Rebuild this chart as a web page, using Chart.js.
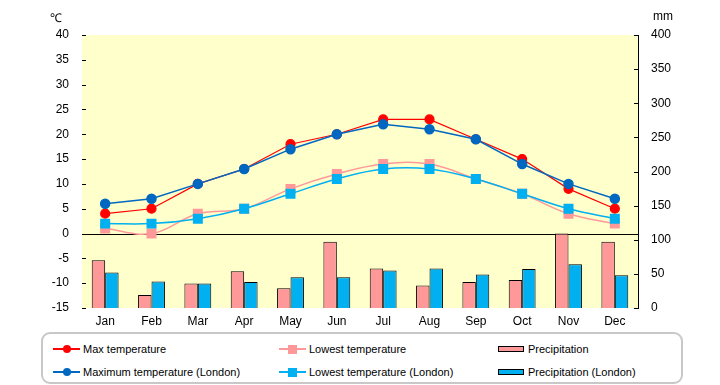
<!DOCTYPE html>
<html lang="en">
<head>
<meta charset="UTF-8">
<title>Temperature and Precipitation</title>
<style>
    body { margin: 0; background: #fff; font-family: "Liberation Sans", Arial, sans-serif; }
    #wrap { position: relative; width: 720px; height: 385px; }
    #chart { position: absolute; left: 0; top: 0; }
    .unit { position: absolute; font-size: 12px; color: #000; }
    #legend {
        position: absolute; left: 41px; top: 332px; width: 638px; height: 48px;
        border: 2px solid #c8c8c8; border-radius: 9px; background: #fff;
    }
    .item { position: absolute; font-size: 11px; color: #000; height: 14px; line-height: 14px; white-space: nowrap; }
    .item .line { position: absolute; left: 0; top: 6px; width: 27px; height: 1.5px; }
    .item .mark { position: absolute; }
    .item .box { position: absolute; left: 0; top: 4px; width: 24px; height: 4px; border: 1px solid #000; }
    .item span { position: absolute; left: 30px; top: 0; }
</style>
<script src="https://cdn.jsdelivr.net/npm/chart.js"></script>
</head>
<body>
<div id="wrap">
    <canvas id="chart" width="720" height="385"></canvas>
    <div class="unit" style="left:50px; top:9px;">℃</div>
    <div class="unit" style="left:653px; top:9px;">mm</div>
    <div id="legend"></div>
</div>
<script>
    const months = ['Jan', 'Feb', 'Mar', 'Apr', 'May', 'Jun', 'Jul', 'Aug', 'Sep', 'Oct', 'Nov', 'Dec'];

    const maxTemp = [4, 5, 10, 13, 18, 20, 23, 23, 19, 15, 9, 5];
    const lowTemp = [1, 0, 4, 5, 9, 12, 14, 14, 11, 8, 4, 2];
    const maxTempLondon = [6, 7, 10, 13, 17, 20, 22, 21, 19, 14, 10, 7];
    const lowTempLondon = [2, 2, 3, 5, 8, 11, 13, 13, 11, 8, 5, 3];

    const precip = [70, 19, 36, 54, 29, 97, 58, 33, 38, 41, 109, 97];
    const precipLondon = [52, 39, 36, 38, 45, 45, 55, 58, 49, 57, 64, 48];

    const tempTicks = { min: -15, max: 40, step: 5 };
    const rainTicks = { min: 0, max: 400, step: 50 };

    const tickFont = { family: '"Liberation Sans", Arial, sans-serif', size: 12 };

    // plot background, zero line and the short inward tick marks
    const decor = {
        id: 'decor',
        beforeDatasetsDraw(chart) {
            const { ctx, chartArea: a } = chart;
            ctx.save();
            ctx.fillStyle = '#ffffcc';
            ctx.fillRect(a.left, a.top, a.right - a.left, a.bottom - a.top);
            const y0 = Math.round(chart.scales.y.getPixelForValue(0)) + 0.5;
            ctx.strokeStyle = '#000';
            ctx.lineWidth = 1;
            ctx.beginPath();
            ctx.moveTo(a.left, y0);
            ctx.lineTo(a.right, y0);
            ctx.stroke();
            ctx.restore();
        },
        afterDraw(chart) {
            const { ctx, chartArea: a } = chart;
            ctx.save();
            ctx.strokeStyle = '#000';
            ctx.lineWidth = 1;
            ctx.beginPath();
            chart.scales.y.ticks.forEach(t => {
                const py = Math.round(chart.scales.y.getPixelForValue(t.value)) + 0.5;
                ctx.moveTo(a.left, py);
                ctx.lineTo(a.left + 4, py);
            });
            chart.scales.y1.ticks.forEach(t => {
                const py = Math.round(chart.scales.y1.getPixelForValue(t.value)) + 0.5;
                ctx.moveTo(a.right - 4, py);
                ctx.lineTo(a.right, py);
            });
            ctx.stroke();
            ctx.restore();
        }
    };

    const datasets = [
        {
            type: 'line', label: 'Lowest temperature (London)', data: lowTempLondon, yAxisID: 'y',
            borderColor: '#00b0f0', backgroundColor: '#00b0f0', borderWidth: 1.5,
            pointStyle: 'rect', pointRadius: 6, tension: 0.4, order: 1
        },
        {
            type: 'line', label: 'Maximum temperature (London)', data: maxTempLondon, yAxisID: 'y',
            borderColor: '#0068c0', backgroundColor: '#0068c0', borderWidth: 1.5,
            pointStyle: 'circle', pointRadius: 4.5, tension: 0, order: 2
        },
        {
            type: 'line', label: 'Lowest temperature', data: lowTemp, yAxisID: 'y',
            borderColor: '#ff9999', backgroundColor: '#ff9999', borderWidth: 1.5,
            pointStyle: 'rect', pointRadius: 6, tension: 0.4, order: 3
        },
        {
            type: 'line', label: 'Max temperature', data: maxTemp, yAxisID: 'y',
            borderColor: '#ff0000', backgroundColor: '#ff0000', borderWidth: 1.2,
            pointStyle: 'circle', pointRadius: 4.5, tension: 0, order: 4
        },
        {
            type: 'bar', label: 'Precipitation', data: precip, yAxisID: 'y1',
            backgroundColor: '#ff9999', borderColor: '#000', borderWidth: 1,
            barPercentage: 1, categoryPercentage: 0.58, order: 5
        },
        {
            type: 'bar', label: 'Precipitation (London)', data: precipLondon, yAxisID: 'y1',
            backgroundColor: '#00b0f0', borderColor: '#000', borderWidth: 1,
            barPercentage: 1, categoryPercentage: 0.58, order: 6
        }
    ];

    new Chart(document.getElementById('chart'), {
        type: 'bar',
        data: { labels: months, datasets: datasets },
        options: {
            responsive: false,
            animation: false,
            layout: { padding: { top: 35, left: 0, right: 0, bottom: 0 } },
            plugins: { legend: { display: false }, tooltip: { enabled: false } },
            scales: {
                x: {
                    grid: { display: false, drawTicks: false },
                    border: { display: false },
                    ticks: { color: '#000', font: tickFont, padding: 6 },
                    afterFit(s) { s.height = 77; }
                },
                y: {
                    position: 'left',
                    min: tempTicks.min, max: tempTicks.max,
                    grid: { display: false, drawTicks: false },
                    border: { display: true, color: '#000', width: 1 },
                    ticks: { stepSize: tempTicks.step, color: '#000', font: tickFont, padding: 13 },
                    afterFit(s) { s.width = 82; }
                },
                y1: {
                    position: 'right',
                    min: rainTicks.min, max: rainTicks.max,
                    grid: { display: false, drawTicks: false },
                    border: { display: true, color: '#000', width: 1 },
                    ticks: { stepSize: rainTicks.step, color: '#000', font: tickFont, padding: 13 },
                    afterFit(s) { s.width = 82; }
                }
            }
        },
        plugins: [decor]
    });

    // legend in the rounded box: three columns, two rows
    const legendSlots = [
        { label: 'Max temperature', x: 10, y: 8 },
        { label: 'Maximum temperature (London)', x: 10, y: 31 },
        { label: 'Lowest temperature', x: 236, y: 8 },
        { label: 'Lowest temperature (London)', x: 236, y: 31 },
        { label: 'Precipitation', x: 455, y: 8 },
        { label: 'Precipitation (London)', x: 455, y: 31 }
    ];
    const legendEl = document.getElementById('legend');
    legendSlots.forEach(slot => {
        const ds = datasets.find(d => d.label === slot.label);
        const item = document.createElement('div');
        item.className = 'item';
        item.style.left = slot.x + 'px';
        item.style.top = slot.y + 'px';
        if (ds.type === 'bar') {
            const box = document.createElement('div');
            box.className = 'box';
            box.style.background = ds.backgroundColor;
            item.appendChild(box);
        } else {
            const line = document.createElement('div');
            line.className = 'line';
            line.style.background = ds.borderColor;
            item.appendChild(line);
            const mark = document.createElement('div');
            mark.className = 'mark';
            const size = ds.pointStyle === 'rect' ? 9 : 8;
            mark.style.width = size + 'px';
            mark.style.height = size + 'px';
            mark.style.left = (13.5 - size / 2) + 'px';
            mark.style.top = (7 - size / 2) + 'px';
            mark.style.background = ds.backgroundColor;
            if (ds.pointStyle === 'circle') mark.style.borderRadius = '50%';
            item.appendChild(mark);
        }
        const text = document.createElement('span');
        text.textContent = ds.label;
        item.appendChild(text);
        legendEl.appendChild(item);
    });
</script>
</body>
</html>
